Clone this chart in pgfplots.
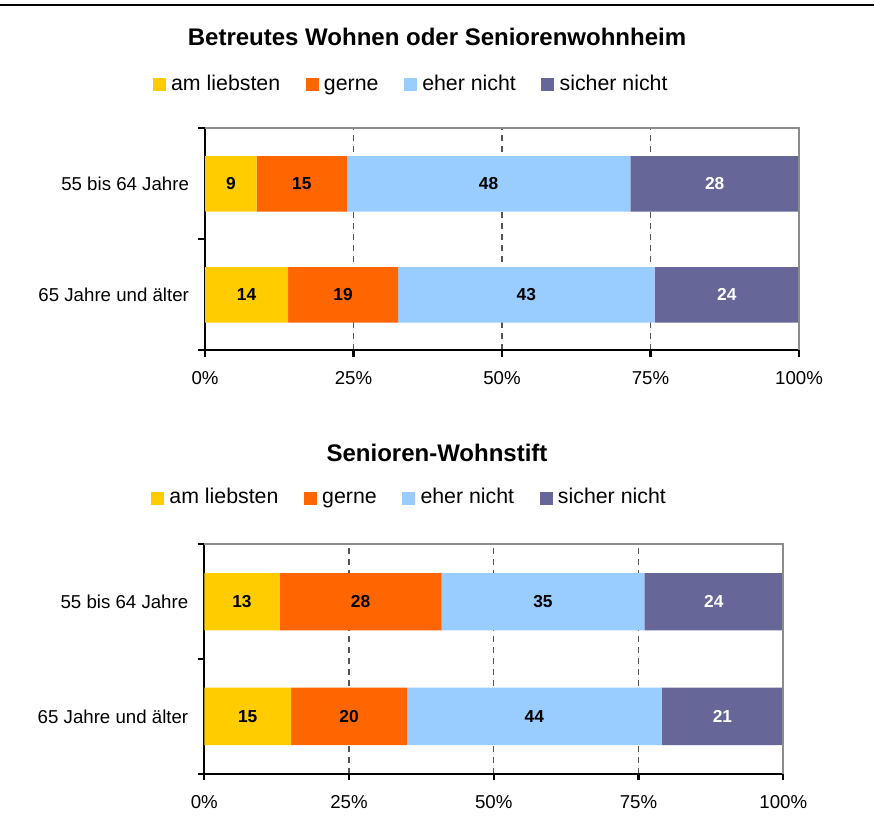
\documentclass[border=0pt]{standalone}
\usepackage{pgfplots}
\pgfplotsset{compat=1.18}
\usepackage{pgfplotstable}
\usepackage{fontspec}
\setmainfont{Liberation Sans}
\definecolor{cA}{HTML}{FFCC00}
\definecolor{cB}{HTML}{FF6600}
\definecolor{cC}{HTML}{99CCFF}
\definecolor{cD}{HTML}{666699}
\definecolor{gridc}{HTML}{555555}
\definecolor{framec}{HTML}{8C8C8C}

% y: 0 = 65 Jahre und aelter, 1 = 55 bis 64 Jahre ; columns: value, label
\pgfplotstableread{
y a am b bm c cm d dm
0 14 14 18.5 19 43.2 43 24.3 24
1 8.7 9 15.2 15 47.7 48 28.4 28
}\tabTop
\pgfplotstableread{
y a am b bm c cm d dm
0 15 15 20 20 44 44 21 21
1 13 13 28 28 35 35 24 24
}\tabBot

\pgfplotsset{
  mybars/.style={
    /pgf/number format/assume math mode=true,
    xbar stacked, bar width=0.5, scale only axis,
    xmin=0, xmax=100, ymin=-0.5, ymax=1.5,
    axis x line*=bottom, axis y line*=left,
    axis line style={line width=1.6pt, black},
    xtick={0,25,50,75,100},
    xticklabel={\pgfmathprintnumber{\tick}\%},
    ytick={-0.5,0.5,1.5},
    y tick label as interval,
    yticklabels={65 Jahre und älter, 55 bis 64 Jahre},
    tick align=outside, major tick length=5pt,
    tick style={line width=1.6pt, black},
    xmajorgrids,
    grid style={dash pattern=on 4.5pt off 3.75pt, line width=0.8pt, gridc},
    ticklabel style={font=\fontsize{14}{16}\selectfont},
    yticklabel style={xshift=-3.5pt},
    xticklabel style={yshift=-7.5pt},
    point meta=explicit,
    nodes near coords,
    every node near coord/.append style={font=\bfseries\fontsize{13}{15}\selectfont, anchor=center},
    legend columns=4,
    legend style={draw=none, fill=none, inner sep=0pt, outer sep=0pt,
      nodes={inner sep=0pt, anchor=west, text height=11.5pt, text depth=3.4pt},
      font=\fontsize{16}{19}\selectfont,
      /tikz/every odd column/.append style={column sep=4pt},
      /tikz/every even column/.append style={column sep=19pt}},
    legend image code/.code={\fill[##1] (0pt,-4.9pt) rectangle (9.8pt,4.9pt);},
    after end axis/.code={\draw[framec, line width=1.6pt] (rel axis cs:0,1) -- (rel axis cs:1,1) -- (rel axis cs:1,0);},
  }
}

\begin{document}
\begin{tikzpicture}
\path[use as bounding box] (0,0) rectangle (655.5pt,-618.75pt);
\draw[line width=1.9pt] (0,-3.75pt) -- (655.5pt,-3.75pt);
\node[font=\bfseries\fontsize{18}{21}\selectfont] at (327.75pt,-28pt) {Betreutes Wohnen oder Seniorenwohnheim};
\node[font=\bfseries\fontsize{18}{21}\selectfont] at (327.75pt,-339.5pt) {Senioren-Wohnstift};

\begin{axis}[mybars, at={(153.75pt,-262.7pt)}, anchor=south west,
  width=445.5pt, height=166.5pt,
  legend style={at={(-0.088,1.196)}, anchor=west}]
\addplot[fill=cA, draw=none] table[x=a, y=y, meta=am] {\tabTop};
\addplot[fill=cB, draw=none] table[x=b, y=y, meta=bm] {\tabTop};
\addplot[fill=cC, draw=none] table[x=c, y=y, meta=cm] {\tabTop};
\addplot[fill=cD, draw=none, every node near coord/.append style={white}] table[x=d, y=y, meta=dm] {\tabTop};
\legend{am liebsten, gerne, eher nicht, sicher nicht}
\end{axis}

\begin{axis}[mybars, at={(153.2pt,-580.3pt)}, anchor=south west,
  width=434.25pt, height=172pt,
  legend style={at={(-0.092,1.20)}, anchor=west}]
\addplot[fill=cA, draw=none] table[x=a, y=y, meta=am] {\tabBot};
\addplot[fill=cB, draw=none] table[x=b, y=y, meta=bm] {\tabBot};
\addplot[fill=cC, draw=none] table[x=c, y=y, meta=cm] {\tabBot};
\addplot[fill=cD, draw=none, every node near coord/.append style={white}] table[x=d, y=y, meta=dm] {\tabBot};
\legend{am liebsten, gerne, eher nicht, sicher nicht}
\end{axis}
\end{tikzpicture}
\end{document}
